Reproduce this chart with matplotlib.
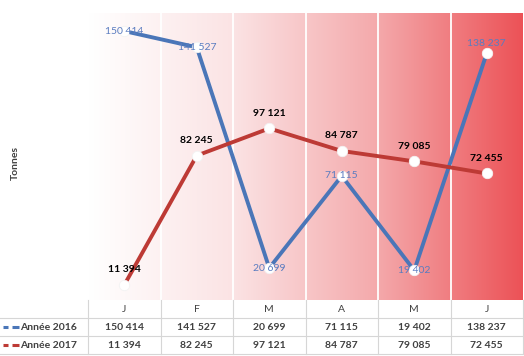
import numpy as np
import matplotlib.pyplot as plt
from matplotlib.colors import LinearSegmentedColormap
from matplotlib.transforms import blended_transform_factory
from matplotlib.lines import Line2D

plt.rcParams['font.family'] = ['Lato', 'DejaVu Sans']

months = ['J', 'F', 'M', 'A', 'M', 'J']
y2016 = [150414, 141527, 20699, 71115, 19402, 138237]
y2017 = [11394, 82245, 97121, 84787, 79085, 72455]
series = ['Année 2016', 'Année 2017']

blue = '#4A76B8'
red = '#BD3A35'
blue_txt = '#5A7CC0'
txt = '#404040'


def fmt(v):
    return f'{v:,}'.replace(',', ' ')


fig = plt.figure(figsize=(5.24, 3.56), dpi=100)
W, H = 524, 356
left, right, top, bottom = 88, 523, 13, 300
ax = fig.add_axes([left / W, 1 - bottom / H, (right - left) / W, (bottom - top) / H])

x = np.arange(len(months))
ax.set_xlim(-0.5, len(months) - 0.5)
ax.set_ylim(3200, 160300)

# gradient background
cmap = LinearSegmentedColormap.from_list('bg', ['#FFFFFF', '#FBE3E4', '#F4A9AB', '#EC5257'])
grad = np.linspace(0, 1, 256).reshape(1, -1)
ax.imshow(grad, cmap=cmap, aspect='auto', extent=[-0.5, len(months) - 0.5, 3200, 160300],
          zorder=0)
for b in x[:-1] + 0.5:
    ax.axvline(b, color='white', lw=1.3, zorder=1)

ax.plot(x, y2016, color=blue, lw=2.8, zorder=2)
ax.plot(x, y2017, color=red, lw=2.8, zorder=2)
ax.plot(x, y2016, 'o', ms=7.5, mfc='white', mec='#F3F3F3', mew=0.6, zorder=3)
ax.plot(x, y2017, 'o', ms=7.5, mfc='white', mec='#F3F3F3', mew=0.6, zorder=3)

for i, v in enumerate(y2016):
    dy = 7 if i == 5 else 0
    ax.annotate(fmt(v), (i, v), xytext=(0, dy), textcoords='offset points', ha='center',
                va='center', color=blue_txt, fontsize=7.5, zorder=4)
for i, v in enumerate(y2017):
    ax.annotate(fmt(v), (i, v), xytext=(0, 11), textcoords='offset points', ha='center',
                va='center', color='black', fontsize=7.5, fontweight='bold', zorder=4)

for s in ax.spines.values():
    s.set_visible(False)
ax.set_xticks([])
ax.set_yticks([])

fig.text(15 / W, 1 - 163 / H, 'Tonnes', rotation=90, ha='center', va='center',
         fontsize=7.5, fontweight='bold', color=txt)

# data table under the plot
tr = blended_transform_factory(ax.transData, ax.transAxes)
ph = bottom - top
rows_px = [300, 318, 336, 354]
ry = [-(r - bottom) / ph for r in rows_px]
grid = '#D6D6D6'
for i in range(len(months) + 1):
    ax.add_line(Line2D([i - 0.5, i - 0.5], [ry[0], ry[3]], transform=tr, color=grid,
                       lw=0.8, clip_on=False))
for r in rows_px[1:]:
    fig.add_artist(Line2D([0, right / W], [1 - r / H, 1 - r / H], color=grid, lw=0.8))
for i, m in enumerate(months):
    ax.text(i, (ry[0] + ry[1]) / 2, m, transform=tr, ha='center', va='center',
            fontsize=7.5, color=txt)
for k, vals in enumerate([y2016, y2017]):
    yc = (ry[k + 1] + ry[k + 2]) / 2
    for i, v in enumerate(vals):
        ax.text(i, yc, fmt(v), transform=tr, ha='center', va='center', fontsize=7.5,
                fontweight='bold', color=txt)
    yf = 1 - (rows_px[k + 1] + 9) / H
    col = [blue, red][k]
    fig.add_artist(Line2D([3 / W, 8 / W], [yf, yf], color=col, lw=2.2,
                          solid_capstyle='butt'))
    fig.add_artist(Line2D([12 / W, 19 / W], [yf, yf], color=col, lw=2.2,
                          solid_capstyle='butt'))
    fig.text(20 / W, yf, series[k], ha='left', va='center', fontsize=7.5,
             fontweight='bold', color=txt)

fig.savefig('out.png', dpi=100)
